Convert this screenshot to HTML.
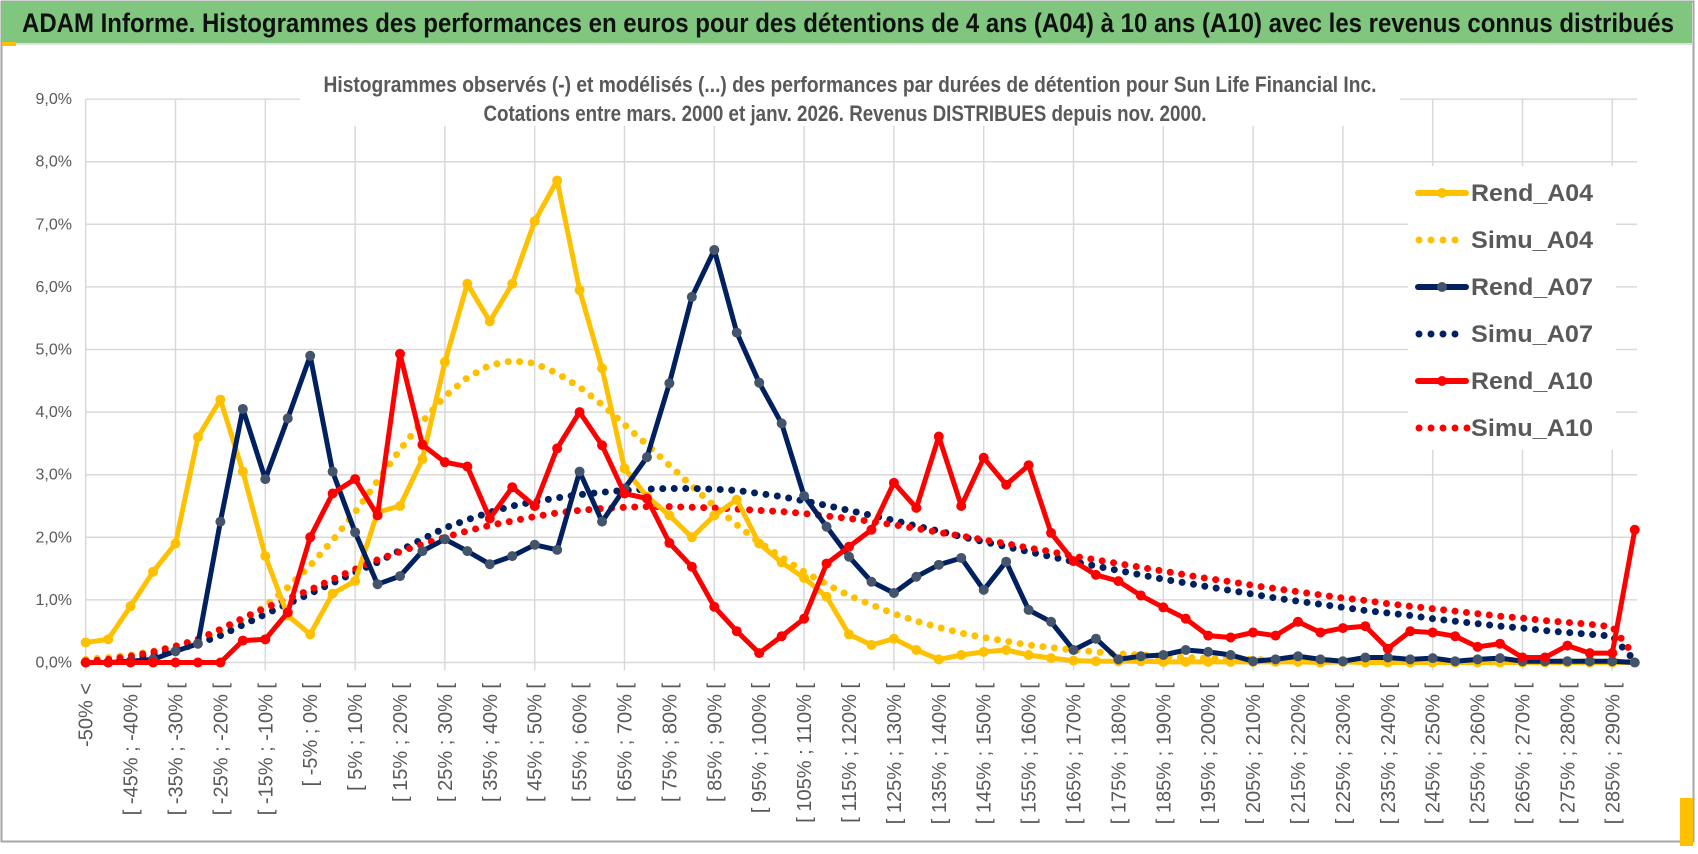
<!DOCTYPE html>
<html><head><meta charset="utf-8">
<style>
html,body{margin:0;padding:0;background:#fff;}
svg{display:block;font-family:"Liberation Sans Narrow","Liberation Sans",sans-serif;}
</style></head>
<body>
<svg id="chart" width="1698" height="854" viewBox="0 0 1698 854" xmlns="http://www.w3.org/2000/svg">
  <rect x="0" y="0" width="1698" height="854" fill="#fff"/>
  <rect x="1.5" y="1.5" width="1692" height="840" fill="none" stroke="#a6a6a6" stroke-width="2"/>
  <rect x="2" y="2" width="1690" height="41" fill="#80c67f"/>
  <line x1="2" y1="44" x2="1692" y2="44" stroke="#e0e0e0" stroke-width="2"/>
  <rect x="2" y="42" width="14" height="4" fill="#ffc000"/>
  <rect x="1680" y="798" width="13" height="48" fill="#ffc000"/>
  <text x="22" y="32" font-size="27" font-weight="bold" fill="#111" textLength="1652" lengthAdjust="spacingAndGlyphs">ADAM Informe. Histogrammes des performances en euros pour des détentions de 4 ans (A04) à 10 ans (A10) avec les revenus connus distribués</text>
  <g id="grid"></g>
  <rect x="300" y="66" width="1100" height="60" fill="#fff"/>
  <text x="850" y="92" text-anchor="middle" font-size="22" font-weight="bold" fill="#595959" textLength="1053" lengthAdjust="spacingAndGlyphs">Histogrammes observés (-) et modélisés (...) des performances par durées de détention pour Sun Life Financial Inc.</text>
  <text x="845" y="121" text-anchor="middle" font-size="22" font-weight="bold" fill="#595959" textLength="723" lengthAdjust="spacingAndGlyphs">Cotations entre mars. 2000 et janv. 2026. Revenus DISTRIBUES depuis nov. 2000.</text>
  <g id="yaxis"></g>
  <g id="xaxis"></g>
  <g id="series"></g>
  <g id="legend"></g>
</svg>
<script>
const yTicks = [0,1,2,3,4,5,6,7,8,9];
const yTickLabels = ["0,0%","1,0%","2,0%","3,0%","4,0%","5,0%","6,0%","7,0%","8,0%","9,0%"];
const categories = ["-50% <"];
for (let k = 1; k < 70; k++) { const lo = -50 + 5*(k-1); categories.push("[ " + lo + "% ; " + (lo+5) + "% ["); }

const rendA04 = [.32,.37,.9,1.45,1.9,3.6,4.2,3.05,1.7,.75, .45,1.1,1.3,2.4,2.5,3.25,4.8,6.05,5.45,6.05, 7.05,7.7,5.95,4.7,3.1,2.65,2.35,2.0,2.35,2.6, 1.9,1.6,1.35,1.05,.45,.28,.38,.2,.05,.12, .17,.2,.12,.07,.03,.02,.02,.02,.01,.01, .01,.01,.01,.01,.01,0,.01,0,0,0, 0,0,0,0,0,0,0,0,0,0];
const simuA04 = [.05,.08,.12,.18,.26,.36,.5,.68,.9,1.2, 1.55,1.95,2.4,2.9,3.4,3.85,4.25,4.55,4.75,4.82, 4.78,4.62,4.4,4.12,3.8,3.48,3.15,2.82,2.5,2.2, 1.92,1.68,1.45,1.25,1.07,.92,.78,.66,.56,.47, .4,.34,.28,.24,.2,.17,.14,.12,.1,.08, .07,.06,.05,.04,.035,.03,.025,.02,.02,.015, .01,.01,.01,.01,.01,.01,.01,.01,.01,.01];
const rendA07 = [0,0,.02,.05,.18,.3,2.25,4.05,2.93,3.9, 4.9,3.05,2.08,1.25,1.38,1.78,1.97,1.78,1.57,1.7, 1.88,1.8,3.05,2.25,2.78,3.28,4.46,5.84,6.59,5.27, 4.47,3.82,2.66,2.17,1.69,1.29,1.11,1.37,1.56,1.67, 1.16,1.61,.84,.65,.2,.38,.05,.1,.12,.2, .17,.12,.02,.05,.1,.05,.02,.08,.08,.05, .07,.02,.05,.07,.02,.02,.02,.02,.02,0];
const simuA07 = [.01,.03,.07,.13,.2,.3,.43,.6,.77,.94, 1.1,1.27,1.44,1.6,1.79,1.97,2.15,2.28,2.4,2.5, 2.57,2.63,2.68,2.72,2.75,2.77,2.78,2.78,2.77,2.75, 2.7,2.65,2.58,2.51,2.43,2.35,2.27,2.18,2.1,2.01, 1.93,1.85,1.77,1.69,1.61,1.54,1.47,1.4,1.33,1.27, 1.21,1.15,1.09,1.03,.98,.93,.88,.83,.79,.75, .7,.66,.62,.58,.55,.51,.48,.45,.42,.03];
const rendA10 = [0,0,0,0,0,0,0,.35,.37,.8, 2.0,2.7,2.93,2.35,4.93,3.48,3.2,3.13,2.3,2.8, 2.5,3.42,4.0,3.47,2.7,2.62,1.91,1.53,.89,.5, .15,.42,.7,1.58,1.85,2.12,2.87,2.47,3.61,2.5, 3.27,2.84,3.15,2.07,1.62,1.4,1.3,1.07,.88,.7, .43,.4,.48,.43,.65,.48,.55,.58,.22,.5, .48,.42,.25,.3,.08,.08,.27,.15,.15,2.12];
const simuA10 = [.02,.05,.1,.17,.26,.37,.53,.71,.87,1.02, 1.16,1.33,1.49,1.64,1.77,1.89,2.0,2.1,2.19,2.26, 2.33,2.39,2.43,2.46,2.48,2.49,2.49,2.48,2.47,2.45, 2.43,2.41,2.38,2.34,2.3,2.25,2.2,2.14,2.08,2.02, 1.96,1.9,1.83,1.77,1.7,1.64,1.58,1.52,1.46,1.4, 1.34,1.29,1.23,1.18,1.13,1.08,1.03,.99,.94,.9, .86,.82,.78,.74,.71,.67,.64,.61,.57,.1];

const NS = "http://www.w3.org/2000/svg";
const X0 = 85.7, DX = 22.45, Y0 = 662.5, DY = 62.6, XR = 1637;
function xPos(i){ return X0 + i*DX; }
function yPos(v){ return Y0 - v*DY; }
function mk(tag, attrs, parent){ const e = document.createElementNS(NS, tag); for (const k in attrs) e.setAttribute(k, attrs[k]); parent.appendChild(e); return e; }

const grid = document.getElementById('grid');
yTicks.forEach(t => {
  const l = mk('line', {x1:X0, x2:XR, y1:yPos(t), y2:yPos(t), stroke:'#d9d9d9', 'stroke-width':1.5}, grid);
  
  
});
for (let i = 0; i < categories.length; i += 4) {
  const l = mk('line', {x1:xPos(i), x2:xPos(i), y1:yPos(9), y2:Y0 + 8, stroke:'#d9d9d9', 'stroke-width':1.5}, grid);
  
  
}

const yax = document.getElementById('yaxis');
yTicks.forEach((t, k) => {
  const tx = mk('text', {x:72, y:yPos(t)+5, 'text-anchor':'end', 'font-size':16, fill:'#595959'}, yax);
  tx.textContent = yTickLabels[k];
  
  
});

const xax = document.getElementById('xaxis');
categories.forEach((c, i) => {
  if (i % 2 !== 0 || i > 68) return;
  const x = xPos(i) + 7, y = 683;
  const tx = mk('text', {x:x, y:y, 'text-anchor':'end', 'font-size':20, fill:'#595959', 'font-family':'Liberation Sans, sans-serif', transform:'rotate(-90 '+x+' '+y+')'}, xax);
  tx.textContent = c;
  
  
});

const ser = document.getElementById('series');
function pts(vals){ return vals.map((v,i)=> xPos(i).toFixed(1)+','+yPos(v).toFixed(1)).join(' '); }
function dotted(vals, color, name){
  const p = mk('polyline', {points:pts(vals), fill:'none', stroke:color, 'stroke-width':7, 'stroke-linecap':'round', 'stroke-dasharray':'0 11.5'}, ser);
  
  
}
function solid(vals, color, mcolor, name){
  const g = mk('g', {}, ser);
  
  
  mk('polyline', {points:pts(vals), fill:'none', stroke:color, 'stroke-width':5, 'stroke-linejoin':'round'}, g);
  vals.forEach((v,i) => {
    const m = mk('circle', {cx:xPos(i), cy:yPos(v), r:5, fill:mcolor}, g);
    
    
  });
}
dotted(simuA04, '#ffc000', 'simu-a04-line');
dotted(simuA07, '#002060', 'simu-a07-line');
dotted(simuA10, '#ff0000', 'simu-a10-line');
solid(rendA04, '#ffc000', '#ffc000', 'rend-a04-line');
solid(rendA07, '#002060', '#44546a', 'rend-a07-line');
solid(rendA10, '#ff0000', '#ff0000', 'rend-a10-line');

const leg = document.getElementById('legend');
const bg = mk('rect', {x:1408, y:166, width:208, height:284, fill:'#fff'}, leg);


const legendNames = ["Rend_A04","Simu_A04","Rend_A07","Simu_A07","Rend_A10","Simu_A10"];
const legendColors = ['#ffc000','#ffc000','#002060','#002060','#ff0000','#ff0000'];
const legendMarker = ['#ffc000','#ffc000','#44546a','#002060','#ff0000','#ff0000'];
legendNames.forEach((n, k) => {
  const y = 193 + k*47;
  const g = mk('g', {}, leg);
  
  
  if (k % 2 === 0) {
    mk('line', {x1:1418, x2:1466, y1:y, y2:y, stroke:legendColors[k], 'stroke-width':6, 'stroke-linecap':'round'}, g);
    mk('circle', {cx:1442, cy:y, r:5, fill:legendMarker[k]}, g);
  } else {
    const nd = (k === 5) ? 5 : 4;
    for (let d = 0; d < nd; d++) mk('circle', {cx:1419 + d*12, cy:y, r:3.5, fill:legendColors[k]}, g);
  }
  const t = mk('text', {x:1471, y:y+8, 'font-size':24, 'font-weight':'bold', fill:'#595959', textLength:122, lengthAdjust:'spacingAndGlyphs'}, g);
  t.textContent = n;
});
</script>
</body></html>
